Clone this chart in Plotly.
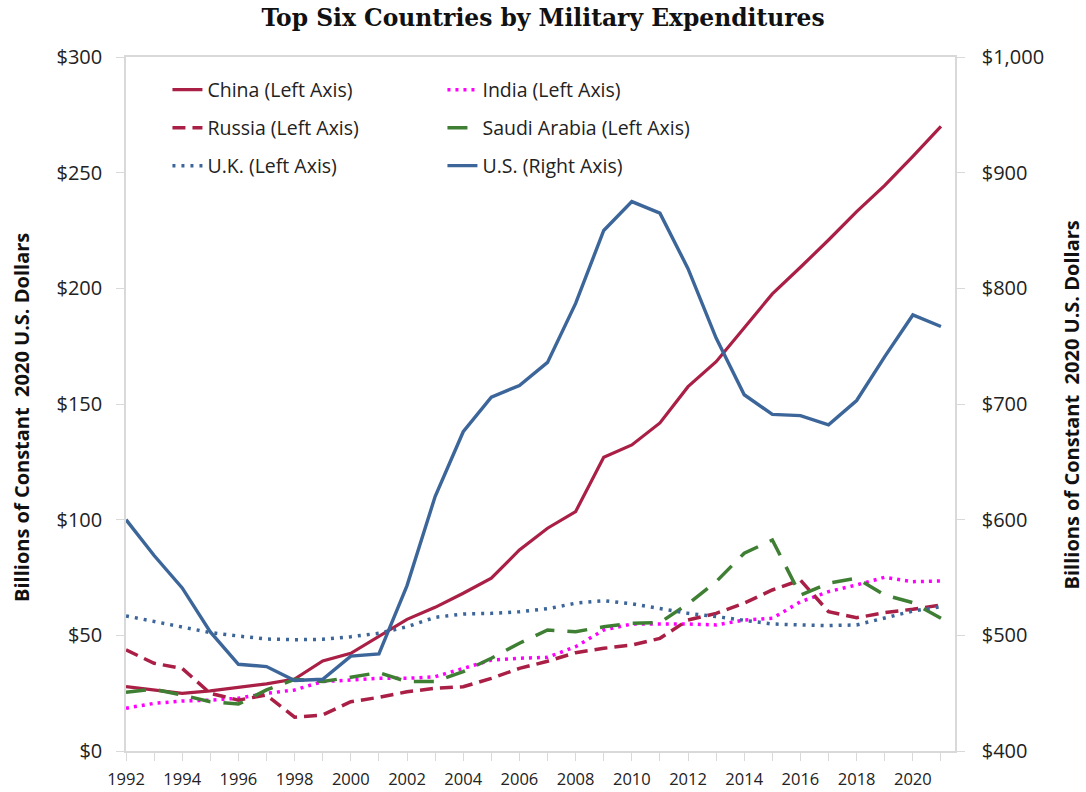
import plotly.graph_objects as go

years = list(range(1992, 2022))
china = [27.8, 26.4, 24.9, 26.0, 27.5, 29.0, 31.1, 38.9, 42.2, 49.7, 56.9, 62.1, 68.2, 74.7, 86.9,
         96.3, 103.5, 127.0, 132.3, 141.8, 157.5, 168.3, 182.7, 197.6, 209.1, 220.9, 233.2, 244.5, 257.0, 270.0]
india = [18.5, 20.6, 21.6, 22.0, 22.8, 24.9, 26.4, 30.0, 30.7, 31.4, 31.4, 32.1, 35.7, 39.3, 40.1,
         40.5, 45.1, 52.3, 54.9, 54.9, 54.9, 54.5, 56.6, 57.4, 64.5, 68.9, 71.8, 75.1, 73.2, 73.5]
russia = [43.7, 37.9, 35.7, 24.9, 22.0, 24.2, 14.6, 15.6, 21.3, 23.2, 25.6, 27.1, 27.8, 31.4, 35.7,
          38.8, 42.5, 44.4, 45.8, 48.7, 56.6, 59.5, 63.9, 69.6, 73.9, 60.2, 57.6, 59.8, 61.3, 63.1]
saudi = [25.4, 26.7, 24.2, 21.3, 20.3, 26.4, 31.0, 30.0, 31.9, 33.9, 30.0, 30.0, 34.3, 40.1, 46.6,
         52.3, 51.6, 53.7, 55.2, 55.5, 63.6, 73.2, 85.5, 91.2, 67.4, 72.5, 74.7, 67.4, 64.1, 57.4]
uk = [58.4, 55.9, 53.7, 51.2, 49.7, 48.4, 48.1, 48.3, 49.4, 50.9, 53.7, 57.8, 59.2, 59.5, 60.2,
      61.5, 63.9, 65.0, 63.6, 61.7, 59.5, 58.1, 56.6, 54.9, 54.5, 54.2, 54.5, 57.4, 60.5, 62.4]
us = [600, 569, 541, 503, 475, 473, 461, 462, 482, 484, 543, 620, 676, 706, 716,
      736, 787, 850, 875, 865, 817, 757, 708, 691, 690, 682, 703, 741, 777, 767]

x_tickvals = years[::2]
x_ticktext = [str(y) for y in x_tickvals]
left_tickvals = [0, 50, 100, 150, 200, 250, 300]
left_ticktext = ["$0", "$50", "$100", "$150", "$200", "$250", "$300"]
right_tickvals = [400, 500, 600, 700, 800, 900, 1000]
right_ticktext = ["$400", "$500", "$600", "$700", "$800", "$900", "$1,000"]
axis_title = "<b>Billions of Constant\u00a0 2020 U.S. Dollars</b>"

CRIMSON = "#AA1F45"
BLUE = "#3C6699"
GREEN = "#3F7F33"
MAGENTA = "#FF00FF"
FONT = "Open Sans"

fig = go.Figure()
fig.add_trace(go.Scatter(x=years, y=china, name="China (Left Axis)", mode="lines",
                         line=dict(color=CRIMSON, width=3.2), legend="legend"))
fig.add_trace(go.Scatter(x=years, y=india, name="India (Left Axis)", mode="lines",
                         line=dict(color=MAGENTA, width=3.5, dash="3px,5px"), legend="legend"))
fig.add_trace(go.Scatter(x=years, y=russia, name="Russia (Left Axis)", mode="lines",
                         line=dict(color=CRIMSON, width=3.5, dash="13px,7px"), legend="legend2"))
fig.add_trace(go.Scatter(x=years, y=saudi, name="Saudi Arabia (Left Axis)", mode="lines",
                         line=dict(color=GREEN, width=3.5, dash="20px,13px"), legend="legend2"))
fig.add_trace(go.Scatter(x=years, y=uk, name="U.K. (Left Axis)", mode="lines",
                         line=dict(color=BLUE, width=3.5, dash="3px,6px"), legend="legend3"))
fig.add_trace(go.Scatter(x=years, y=us, name="U.S. (Right Axis)", mode="lines", yaxis="y2",
                         line=dict(color=BLUE, width=3.4), legend="legend3"))

AXC = "#D9D9D9"
legend_common = dict(orientation="h", entrywidth=230, entrywidthmode="pixels",
                     font=dict(family=FONT, size=19.5, color="#222"), bgcolor="rgba(0,0,0,0)",
                     xanchor="left", yanchor="middle", x=0.05)

fig.update_layout(
    width=1086, height=792,
    margin=dict(l=126, r=131, t=57, b=41),
    paper_bgcolor="white", plot_bgcolor="white",
    title=dict(text="<b>Top Six Countries by Military Expenditures</b>", x=0.5, xanchor="center",
               xref="container", y=0.978, yanchor="middle",
               font=dict(family="DejaVu Serif", size=23.4, color="#111")),
    xaxis=dict(range=[1992, 2021.5], tickvals=x_tickvals, ticktext=x_ticktext,
               showline=True, linecolor=AXC, linewidth=1.5, mirror=True, showgrid=False,
               ticks="outside", ticklen=8, tickcolor=AXC, zeroline=False, automargin=False,
               minor=dict(dtick=1, tick0=1992, ticks="outside", ticklen=8, tickcolor=AXC),
               ticklabelstandoff=4,
               tickfont=dict(family=FONT, size=16.5, color="#222")),
    yaxis=dict(range=[0, 300], tickvals=left_tickvals, ticktext=left_ticktext,
               showline=True, linecolor=AXC, linewidth=1.5, showgrid=False, zeroline=False,
               ticks="outside", ticklen=8, tickcolor=AXC, ticklabelstandoff=10, automargin=False,
               tickfont=dict(family=FONT, size=20, color="#222")),
    yaxis2=dict(range=[400, 1000], tickvals=right_tickvals, ticktext=right_ticktext,
                overlaying="y", side="right", automargin=False,
                showline=True, linecolor=AXC, linewidth=1.5, showgrid=False, zeroline=False,
                ticks="outside", ticklen=8, tickcolor=AXC, ticklabelstandoff=13,
                tickfont=dict(family=FONT, size=20, color="#222")),
    legend=dict(legend_common, y=0.9524),
    legend2=dict(legend_common, y=0.8977),
    legend3=dict(legend_common, y=0.843),
    annotations=[
        dict(text=axis_title, textangle=-90, xref="paper", yref="paper", x=-0.1255, y=0.4813,
             xanchor="center", yanchor="middle", showarrow=False,
             font=dict(family=FONT, size=20, color="#111")),
        dict(text=axis_title, textangle=-90, xref="paper", yref="paper", x=1.1405, y=0.4986,
             xanchor="center", yanchor="middle", showarrow=False,
             font=dict(family=FONT, size=20, color="#111")),
    ],
)

fig.write_html("out.html", post_script="document.body.style.margin='0';",
               config={"displayModeBar": False})
